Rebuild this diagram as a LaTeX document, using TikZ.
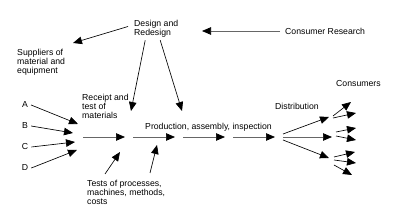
\documentclass[tikz,border=0pt]{standalone}
\usepackage{fontspec}
\setmainfont{Liberation Sans}
\usetikzlibrary{arrows.meta, positioning}

\begin{document}
\begin{tikzpicture}[
    x=1pt, y=-1pt,
    every node/.style={font=\fontsize{8.7}{9}\selectfont, inner sep=0pt, align=left},
    lbl/.style={anchor=west},
    arrow/.style={-{Triangle[length=9pt,width=7.5pt,color=black]}, line width=0.65pt, draw=black},
    flow/.style={arrow, draw=black!60}
]
    \useasboundingbox (0,0) rectangle (400,224);

    % Labels
    \node[lbl] (design) at (134,28.5) {Design and\\Redesign};
    \node[lbl] (supp) at (17,62) {Suppliers of\\material and\\equipment};
    \node[lbl] (research) at (285,31) {Consumer Research};
    \node[lbl] (receipt) at (82,106) {Receipt and\\test of\\materials};
    \node[lbl] (prod) at (145,127) {Production, assembly, inspection};
    \node[lbl] (tests) at (87,192) {Tests of processes,\\machines, methods,\\costs};
    \node[lbl] (distr) at (275,106) {Distribution};
    \node[lbl] (cons) at (336,84) {Consumers};
    \node (A) at (25,105) {A};
    \node (B) at (25,126) {B};
    \node (C) at (25,147) {C};
    \node (D) at (25,168) {D};

    % Free ends
    \coordinate (suppTip) at (73,43);
    \coordinate (resTip) at (202,31);
    \coordinate (recTip) at (131,111);
    \coordinate (prodTip) at (182,111);
    \coordinate (aTip) at (78,124);
    \coordinate (bTip) at (73,133);
    \coordinate (cTip) at (75,142);
    \coordinate (dTip) at (77,150);
    \coordinate (t1Tail) at (105,174);
    \coordinate (t1Tip) at (120,152);
    \coordinate (t2Tail) at (150,173);
    \coordinate (t2Tip) at (157,145);

    % Main line
    \coordinate (m0) at (83,137);
    \coordinate (m1) at (125,137);
    \coordinate (m2) at (133,137);
    \coordinate (m3) at (175,137);
    \coordinate (m4) at (183,137);
    \coordinate (m5) at (225,137);
    \coordinate (m6) at (233,137);
    \coordinate (m7) at (275,137);

    % Distribution fan
    \coordinate (f0) at (283,134);
    \coordinate (f1) at (283,137);
    \coordinate (f2) at (283,140);
    \coordinate (g0) at (329,117);
    \coordinate (g1) at (332,137);
    \coordinate (g2) at (329,158);

    % Upper connectors
    \draw[arrow] ([shift={(-6,-2)}]design.west) -- (suppTip);
    \draw[flow] ([xshift=-5]research.west) -- (resTip);
    \draw[arrow] ([shift={(-11,3)}]design.south) -- (recTip);
    \draw[arrow] ([shift={(4,3)}]design.south) -- (prodTip);

    % Inputs
    \draw[arrow] ([xshift=3]A.east) -- (aTip);
    \draw[arrow] ([xshift=3]B.east) -- (bTip);
    \draw[arrow] ([xshift=3]C.east) -- (cTip);
    \draw[arrow] ([xshift=3]D.east) -- (dTip);

    \draw[flow] (m0) -- (m1);
    \draw[flow] (m2) -- (m3);
    \draw[flow] (m4) -- (m5);
    \draw[flow] (m6) -- (m7);

    \draw[arrow] (t1Tail) -- (t1Tip);
    \draw[arrow] (t2Tail) -- (t2Tip);

    % Distribution to consumers
    \draw[arrow] (f0) -- (g0);
    \draw[flow] (f1) -- (g1);
    \draw[arrow] (f2) -- (g2);

    \draw[arrow] (333,116) -- (351,102);
    \draw[arrow] (333,118) -- (356,113);
    \draw[arrow] (336,132) -- (356,128);
    \draw[arrow] (336,136) -- (356,140);
    \draw[arrow] (334,157) -- (355,152);
    \draw[arrow] (334,160) -- (356,163);
    \draw[arrow] (334,165) -- (352,175);

\end{tikzpicture}
\end{document}
